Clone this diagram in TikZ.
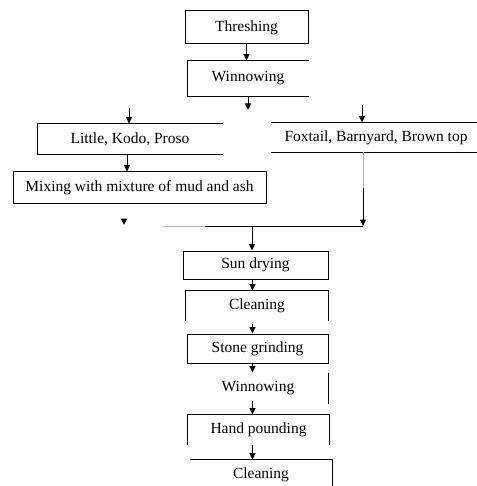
\documentclass[tikz,border=0pt]{standalone}
\usepackage{fontspec}
\setmainfont{Liberation Serif}
\usetikzlibrary{arrows.meta}
\begin{document}
\begin{tikzpicture}[x=1pt,y=-1pt,
  box/.style={rectangle, inner sep=0pt, line width=1pt, font=\fontsize{15.5}{18}\selectfont},
  fbox/.style={box, draw},
  arr/.style={line width=1pt, -{Triangle[length=6.5pt,width=6pt]}},
  ln/.style={line width=1pt},
  faint/.style={line width=1pt, black!30}]
\useasboundingbox (0,0) rectangle (476,486);
% nodes
\node[fbox, minimum width=123pt, minimum height=33pt] (thr) at (246.5,27.5) {Threshing};
\node[box, minimum width=120pt, minimum height=35pt] (win1) at (248,78.5) {Winnowing};
\node[box, minimum width=184pt, minimum height=30pt] (lkp) at (130,139) {Little, Kodo, Proso};
\node[box, minimum width=210pt, minimum height=29pt] (fox) at (376,137.5) {Foxtail, Barnyard, Brown top};
\node[fbox, minimum width=253pt, minimum height=31pt] (mix) at (139.5,187.5) {Mixing with mixture of mud and ash};
\node[fbox, minimum width=145pt, minimum height=28pt] (sun) at (255.5,265) {Sun drying};
\node[box, minimum width=142pt, minimum height=29pt] (cl1) at (257,305.5) {Cleaning};
\node[fbox, minimum width=141pt, minimum height=29pt] (stone) at (257.5,348.5) {Stone grinding};
\node[box, minimum width=140pt, minimum height=30pt] (win2) at (258,388) {Winnowing};
\node[box, minimum width=141pt, minimum height=29pt] (hand) at (258.5,429.5) {Hand pounding};
\node[box, minimum width=142pt, minimum height=30pt] (cl2) at (261,475) {Cleaning};
% helper coordinates
\coordinate (w1out) at (248,110);
\coordinate (lkpin) at (129,108);
\coordinate (foxin) at (362,105);
\coordinate (fxcol) at (363,0);
\coordinate (fxmid) at (363,188);
\coordinate (merge) at (363,226);
\coordinate (mleft) at (163,226);
\coordinate (mgray) at (205,226);
\coordinate (lone) at (124,225);
\coordinate (split) at (252,226);
\coordinate (col) at (252.5,0);
% partial box outlines
\draw[ln] (win1.north east) -- (win1.north west) -- (win1.south west) -- (win1.south east);
\draw[ln] (lkp.north east) -- (lkp.north west) -- (lkp.south west) -- (lkp.south east);
\draw[ln] (fox.north west) -- (fox.north east);
\draw[ln] (fox.south west) -- (fox.south east);
\draw[ln] (cl1.south west) -- (cl1.north west) -- (cl1.north east) -- (cl1.south east);
\draw[ln] (win2.north east) -- (win2.south east);
\draw[ln] (hand.south west) -- (hand.north west) -- (hand.north east) -- (hand.south east);
\draw[ln] (cl2.north west) -- (cl2.north east) -- (cl2.south east);
% connectors
\draw[arr] (thr.south) -- (thr.south |- win1.north);
\draw[arr] (win1.south) -- (w1out);
\draw[arr] (lkpin) -- (lkpin |- lkp.north);
\draw[arr] (foxin) -- (foxin |- fox.north);
\draw[arr] ([xshift=-3pt]lkp.south) -- ([xshift=-3pt]lkp.south |- mix.north);
\draw[faint] (fox.south -| fxcol) -- (fxmid);
\draw[arr] (fxmid) -- (merge);
\draw[faint] (mleft) -- (mgray);
\draw[ln] (mgray) -- (merge);
\draw[arr] ([yshift=5pt]lone) -- (lone);
\draw[arr] (split) -- (split |- sun.north);
\draw[arr] (sun.south -| col) -- (col |- cl1.north);
\draw[arr] ([yshift=10pt]col |- stone.north) -- (col |- stone.north);
\draw[arr] (stone.south -| col) -- (col |- win2.north);
\draw[arr] ([yshift=3pt]col |- win2.south) -- (col |- hand.north);
\draw[arr] (hand.south -| col) -- (col |- cl2.north);
\end{tikzpicture}
\end{document}
